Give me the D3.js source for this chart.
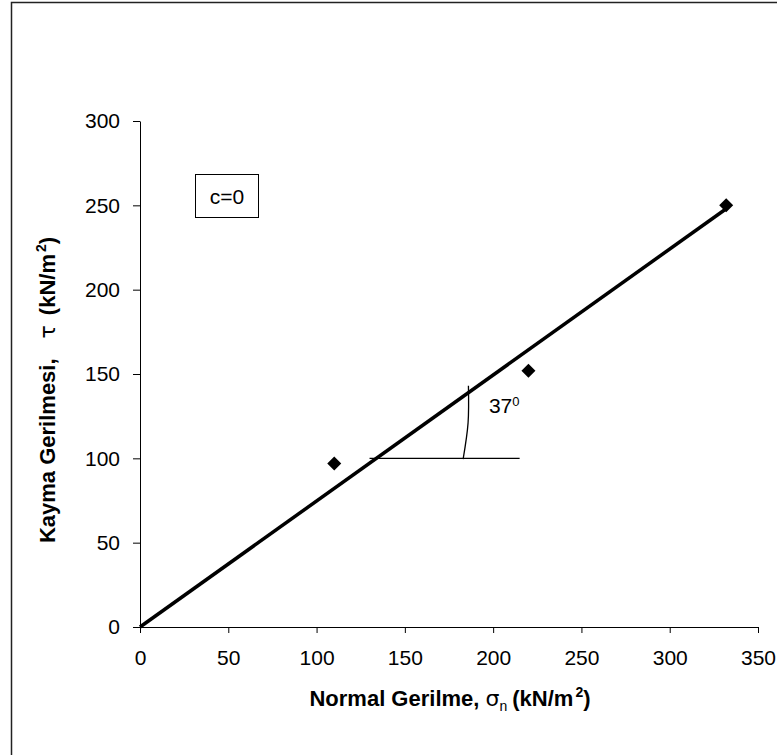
<!DOCTYPE html>
<html>
<head>
<meta charset="utf-8">
<script src="https://cdn.jsdelivr.net/npm/d3@7"></script>
<style>
  html, body { margin: 0; padding: 0; background: #fff; }
  svg { display: block; font-family: "Liberation Sans", Arial, sans-serif; }
</style>
</head>
<body>
<svg id="chart" width="777" height="755"></svg>
<script>
// Shear test results: normal stress vs. shear stress (kN/m²)
const normalStress = [110, 220, 332];
const shearStress = [97, 152, 250];

// Failure envelope through the origin (c = 0, φ ≈ 37°)
const envelopeX = [0, 332];
const envelopeY = [0, 248];

// Angle construction: horizontal reference and arc
const guideX = [130, 215];
const guideY = [100, 100];
const arcX = [186, 185.8, 183];
const arcY = [143, 121, 99.5];

const xTicks = [0, 50, 100, 150, 200, 250, 300, 350];
const yTicks = [0, 50, 100, 150, 200, 250, 300];

const svg = d3.select("#chart");

// Frame
svg.append("rect")
  .attr("x", 11.5).attr("y", 2.5)
  .attr("width", 900).attr("height", 900)
  .attr("fill", "none").attr("stroke", "#222").attr("stroke-width", 1.5);

const x = d3.scaleLinear().domain([0, 350]).range([140, 758]);
const y = d3.scaleLinear().domain([0, 300]).range([627, 121]);

// Axes
const xAxis = svg.append("g")
  .attr("transform", `translate(0,${y(0)})`)
  .call(d3.axisBottom(x).tickValues(xTicks).tickSize(6).tickSizeOuter(0));
xAxis.selectAll("text").attr("y", 38).attr("dy", 0);

const yAxis = svg.append("g")
  .attr("transform", `translate(${x(0)},0)`)
  .call(d3.axisLeft(y).tickValues(yTicks).tickSize(7).tickSizeOuter(0).tickPadding(13));

svg.selectAll(".tick text")
  .attr("font-size", 21)
  .attr("font-family", "Liberation Sans, Arial, sans-serif")
  .attr("fill", "#000");
svg.selectAll(".domain, .tick line").attr("stroke", "#000").attr("stroke-width", 1);

// Failure envelope
const line = d3.line().x(d => x(d[0])).y(d => y(d[1]));
svg.append("path")
  .datum(d3.zip(envelopeX, envelopeY))
  .attr("d", line)
  .attr("fill", "none").attr("stroke", "#000").attr("stroke-width", 3.5);

// Angle guide
svg.append("path")
  .datum(d3.zip(guideX, guideY))
  .attr("d", line)
  .attr("fill", "none").attr("stroke", "#000").attr("stroke-width", 1.3);
svg.append("path")
  .datum(d3.zip(arcX, arcY))
  .attr("d", d3.line().x(d => x(d[0])).y(d => y(d[1])).curve(d3.curveNatural))
  .attr("fill", "none").attr("stroke", "#000").attr("stroke-width", 1.3);

// Angle label
const angleLabel = svg.append("text")
  .attr("x", x(197.6)).attr("y", y(126.8))
  .attr("font-size", 21).attr("fill", "#000");
angleLabel.append("tspan").text("37");
angleLabel.append("tspan").attr("font-size", 13).attr("dy", -7).text("0");

// Data points (diamonds)
const diamond = 7;
svg.append("g").selectAll("path")
  .data(d3.zip(normalStress, shearStress))
  .join("path")
  .attr("transform", d => `translate(${x(d[0])},${y(d[1])})`)
  .attr("d", `M0,${-diamond}L${diamond},0L0,${diamond}L${-diamond},0Z`)
  .attr("fill", "#000");

// Cohesion note
svg.append("rect")
  .attr("x", 195.5).attr("y", 174.5).attr("width", 63).attr("height", 43)
  .attr("fill", "#fff").attr("stroke", "#000").attr("stroke-width", 1);
svg.append("text")
  .attr("x", 227).attr("y", 203.5).attr("text-anchor", "middle")
  .attr("font-size", 21).attr("fill", "#000").text("c=0");

// X axis title
const xTitle = svg.append("text")
  .attr("x", 450).attr("y", 706).attr("text-anchor", "middle")
  .attr("font-size", 22).attr("font-weight", "bold").attr("fill", "#000");
xTitle.append("tspan").text("Normal Gerilme, ");
xTitle.append("tspan").attr("font-family", "DejaVu Sans").attr("font-weight", "normal").text("σ");
xTitle.append("tspan").attr("font-size", 14).attr("font-weight", "normal").attr("dy", 5).text("n");
xTitle.append("tspan").attr("dy", -5).attr("dx", 5).text("(kN/m");
xTitle.append("tspan").attr("font-size", 14).attr("dy", -9).attr("dx", 2).text("2");
xTitle.append("tspan").attr("dy", 9).text(")");

// Y axis title
const yTitle = svg.append("text")
  .attr("transform", "translate(55,390) rotate(-90)")
  .attr("text-anchor", "middle")
  .attr("font-size", 22).attr("font-weight", "bold").attr("fill", "#000");
yTitle.append("tspan").text("Kayma Gerilmesi,");
yTitle.append("tspan").attr("dx", 20).attr("font-family", "DejaVu Sans").attr("font-weight", "normal").text("τ");
yTitle.append("tspan").attr("dx", 10).text("(kN/m");
yTitle.append("tspan").attr("font-size", 14).attr("dy", -9).attr("dx", 2).text("2");
yTitle.append("tspan").attr("dy", 9).text(")");
</script>
</body>
</html>
